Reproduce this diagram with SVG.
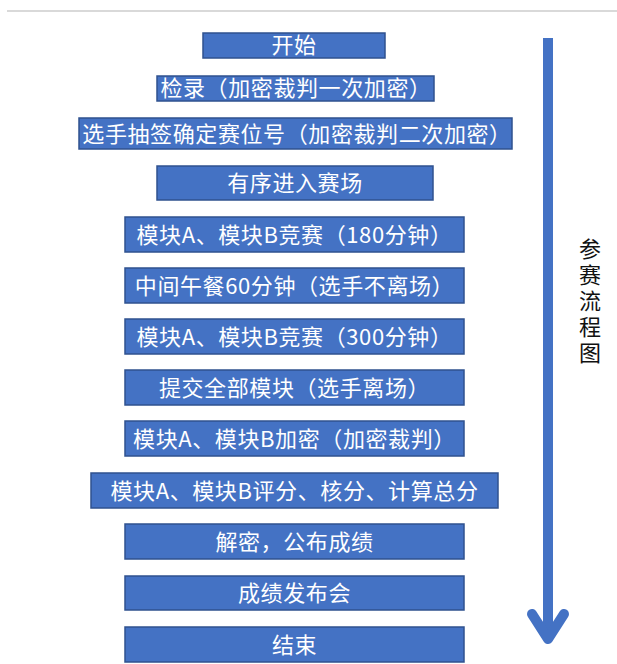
<svg xmlns="http://www.w3.org/2000/svg" width="617" height="664" viewBox="0 0 617 664">
<defs>
<style>
.box{fill:#4472C4;stroke:#2F528F;stroke-width:1.5}
.t{fill:#ffffff;font-family:"Noto Sans CJK SC","Liberation Sans",sans-serif;font-size:22px;letter-spacing:0.6px;text-anchor:middle}
.side{fill:#111111;font-family:"Noto Sans CJK SC",sans-serif;font-size:22px;writing-mode:vertical-rl;letter-spacing:4px}
.arrow{stroke:#4472C4;stroke-width:10;fill:none;stroke-linecap:round;stroke-linejoin:round}
</style>
</defs>
<rect x="0" y="0" width="617" height="664" fill="#ffffff"/>
<line x1="7" y1="11" x2="617" y2="11" stroke="#d9d9d9" stroke-width="2"/>
<g id="n1"><rect class="box" x="203" y="33" width="182" height="25"/><text class="t" x="294" y="53">开始</text></g>
<g id="n2"><rect class="box" x="157" y="76" width="277" height="25"/><text class="t" x="296" y="96">检录（加密裁判一次加密）</text></g>
<g id="n3"><rect class="box" x="79" y="118" width="433" height="31"/><text class="t" x="297" y="141.5">选手抽签确定赛位号（加密裁判二次加密）</text></g>
<g id="n4"><rect class="box" x="157" y="166" width="276" height="34"/><text class="t" x="295" y="191">有序进入赛场</text></g>
<g id="n5"><rect class="box" x="125" y="217" width="339" height="35"/><text class="t" x="294.5" y="242.5">模块A、模块B竞赛（180分钟）</text></g>
<g id="n6"><rect class="box" x="125" y="268" width="339" height="35"/><text class="t" x="294.5" y="293.5">中间午餐60分钟（选手不离场）</text></g>
<g id="n7"><rect class="box" x="125" y="319" width="339" height="35"/><text class="t" x="294.5" y="344.5">模块A、模块B竞赛（300分钟）</text></g>
<g id="n8"><rect class="box" x="125" y="370" width="339" height="35"/><text class="t" x="294.5" y="395.5">提交全部模块（选手离场）</text></g>
<g id="n9"><rect class="box" x="125" y="421" width="339" height="35"/><text class="t" x="294.5" y="446.5">模块A、模块B加密（加密裁判）</text></g>
<g id="n10"><rect class="box" x="91" y="473" width="407" height="35"/><text class="t" x="294.5" y="498.5">模块A、模块B评分、核分、计算总分</text></g>
<g id="n11"><rect class="box" x="125" y="524" width="339" height="35"/><text class="t" x="294.5" y="549.5">解密，公布成绩</text></g>
<g id="n12"><rect class="box" x="125" y="576" width="339" height="34"/><text class="t" x="294.5" y="601">成绩发布会</text></g>
<g id="n13"><rect class="box" x="125" y="627" width="339" height="35"/><text class="t" x="294.5" y="652.5">结束</text></g>
<g id="connectors">
<line x1="548" y1="38" x2="548" y2="636" stroke="#4472C4" stroke-width="10"/>
<polyline class="arrow" points="532,614 548,639 564,614"/>
</g>
<g id="label">
<text class="side" x="590" y="238">参赛流程图</text>
</g>
</svg>
